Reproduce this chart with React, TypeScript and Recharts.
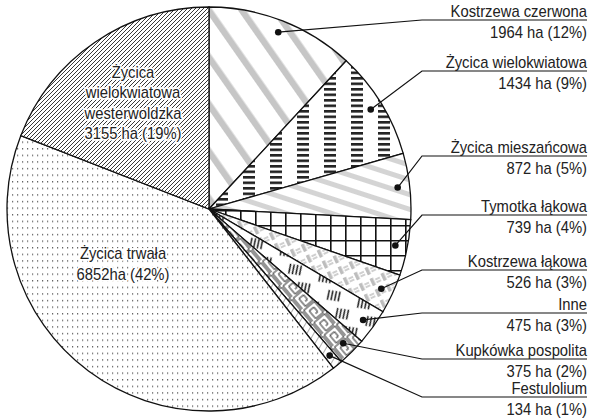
import { PieChart, Pie, Cell } from 'recharts';

// areas of grass species (ha), clockwise from 12 o'clock
const names = [
  'Kostrzewa czerwona',
  'Życica wielokwiatowa',
  'Życica mieszańcowa',
  'Tymotka łąkowa',
  'Kostrzewa łąkowa',
  'Inne',
  'Kupkówka pospolita',
  'Festulolium',
  'Życica trwała',
  'Życica wielokwiatowa westerwoldzka',
];
const areas = [1964, 1434, 872, 739, 526, 475, 375, 134, 6852, 3155];
const percents = [12, 9, 5, 4, 3, 3, 2, 1, 42, 19];
const valueLabels = [
  '1964 ha (12%)',
  '1434 ha (9%)',
  '872 ha (5%)',
  '739 ha (4%)',
  '526 ha (3%)',
  '475 ha (3%)',
  '375 ha (2%)',
  '134 ha (1%)',
  '6852ha (42%)',
  '3155 ha (19%)',
];
const patternIds = ['pCzer', 'pWielo', 'pMiesz', 'pTym', 'pKlak', 'pInne', 'pKup', 'pFest', 'pTrw', 'pWest'];

const data = names.map((name, i) => ({ name, value: areas[i], pct: percents[i], label: valueLabels[i] }));

// layout of the right-hand callouts
const calloutY = [20, 71, 156, 215, 270, 313, 359, 397];
const LEADER_X = 422;
const TEXT_RIGHT = 587;
const FONT = "'Liberation Sans', Arial, sans-serif";
const FONT_SIZE = 17;
const SQUEEZE = 0.87; // narrow face look

const RAD = Math.PI / 180;

// text squeezed horizontally around its anchor point
function Narrow({ x, y, anchor, halo, children }: any) {
  return (
    <text
      x={x}
      y={y}
      textAnchor={anchor}
      fontFamily={FONT}
      fontSize={FONT_SIZE}
      fill="#222"
      stroke={halo ? '#fff' : undefined}
      strokeWidth={halo ? 3.5 : undefined}
      paintOrder="stroke"
      transform={`translate(${x},0) scale(${SQUEEZE},1) translate(${-x},0)`}
    >
      {children}
    </text>
  );
}

const renderLabel = (props: any) => {
  const { cx, cy, midAngle, outerRadius, index } = props;
  const d = data[index];

  if (index === 9) {
    const x = cx - 76;
    const y = cy - 131;
    const lines = ['Życica', 'wielokwiatowa', 'westerwoldzka', d.label];
    return (
      <g key={`lbl-${index}`}>
        {lines.map((t, k) => (
          <Narrow key={k} x={x} y={y + k * 20.5} anchor="middle" halo>
            {t}
          </Narrow>
        ))}
      </g>
    );
  }
  if (index === 8) {
    const x = cx - 86;
    const y = cy + 50;
    const lines = ['Życica trwała', d.label];
    return (
      <g key={`lbl-${index}`}>
        {lines.map((t, k) => (
          <Narrow key={k} x={x} y={y + k * 21} anchor="middle" halo>
            {t}
          </Narrow>
        ))}
      </g>
    );
  }

  const r = outerRadius * 0.94;
  const px = cx + r * Math.cos(-midAngle * RAD);
  const py = cy + r * Math.sin(-midAngle * RAD);
  const ly = calloutY[index];

  return (
    <g key={`lbl-${index}`}>
      <polyline
        points={`${px},${py} ${LEADER_X},${ly} ${TEXT_RIGHT},${ly}`}
        fill="none"
        stroke="#111"
        strokeWidth={1.2}
      />
      <circle cx={px} cy={py} r={3.3} fill="#111" />
      <Narrow x={TEXT_RIGHT} y={ly - 3} anchor="end">
        {d.name}
      </Narrow>
      <Narrow x={TEXT_RIGHT} y={ly + 18.5} anchor="end">
        {d.label}
      </Narrow>
    </g>
  );
};

export default function App() {
  return (
    <div style={{ position: 'absolute', left: 0, top: 0, width: 589, height: 420, background: '#fff' }}>
      <PieChart width={589} height={420} margin={{ top: 0, right: 0, bottom: 0, left: 0 }}>
        <defs>
          {/* wide grey bands, descending right */}
          <pattern id="pCzer" patternUnits="userSpaceOnUse" width="27" height="27" patternTransform="rotate(-35)">
            <rect width="27" height="27" fill="#fff" />
            <rect x="0" y="0" width="6.5" height="27" fill="#c6c6c6" />
          </pattern>
          {/* columns of short dashes */}
          <pattern id="pWielo" patternUnits="userSpaceOnUse" width="27" height="5.5">
            <rect width="27" height="5.5" fill="#fff" />
            <rect x="0" y="0" width="12" height="2.6" fill="#222" />
          </pattern>
          {/* shallow light grey bands */}
          <pattern id="pMiesz" patternUnits="userSpaceOnUse" width="20" height="14" patternTransform="rotate(18)">
            <rect width="20" height="14" fill="#fff" />
            <rect x="0" y="0" width="20" height="5" fill="#d4d4d4" />
          </pattern>
          {/* square grid */}
          <pattern id="pTym" patternUnits="userSpaceOnUse" width="15" height="15">
            <rect width="15" height="15" fill="#fff" />
            <path d="M0 0.8 H15 M0.8 0 V15" stroke="#111" strokeWidth={1.6} />
          </pattern>
          {/* grey weave */}
          <pattern id="pKlak" patternUnits="userSpaceOnUse" width="12" height="12" patternTransform="rotate(-25)">
            <rect width="12" height="12" fill="#fff" />
            <rect x="1" y="1" width="3.5" height="8" fill="#bdbdbd" />
            <path d="M6 4 H11 M6 7 H11" stroke="#888" strokeWidth={0.8} />
          </pattern>
          {/* groups of short diagonal strokes */}
          <pattern id="pInne" patternUnits="userSpaceOnUse" width="24" height="20" patternTransform="rotate(-25)">
            <rect width="24" height="20" fill="#fff" />
            <path d="M2 10 L8 2 M5 12 L11 4 M8 14 L14 6 M11 16 L17 8" stroke="#111" strokeWidth={1.3} />
          </pattern>
          {/* greek key / maze */}
          <pattern id="pKup" patternUnits="userSpaceOnUse" width="16" height="16" patternTransform="rotate(-40)">
            <rect width="16" height="16" fill="#fff" />
            <path d="M1 15 V1 H15 V15 H5 V5 H11 V11 H8" fill="none" stroke="#111" strokeWidth={0.9} />
          </pattern>
          {/* sparse thin hatch */}
          <pattern id="pFest" patternUnits="userSpaceOnUse" width="6" height="6" patternTransform="rotate(30)">
            <rect width="6" height="6" fill="#fff" />
            <path d="M0 0 V6" stroke="#333" strokeWidth={0.8} />
          </pattern>
          {/* fine dots */}
          <pattern id="pTrw" patternUnits="userSpaceOnUse" width="5" height="6.6">
            <rect width="5" height="6.6" fill="#fff" />
            <rect x="2" y="3" width="1.2" height="1.2" fill="#444" />
          </pattern>
          {/* dense diagonal lines */}
          <pattern id="pWest" patternUnits="userSpaceOnUse" width="4" height="4">
            <rect width="4" height="4" fill="#fff" />
            <path d="M-1 1 L1 -1 M0 4 L4 0 M3 5 L5 3" stroke="#222" strokeWidth={0.9} />
          </pattern>
        </defs>
        <Pie
          data={data}
          dataKey="value"
          nameKey="name"
          cx={209}
          cy={209}
          outerRadius={202}
          startAngle={90}
          endAngle={-270}
          stroke="#111"
          strokeWidth={1.3}
          label={renderLabel}
          labelLine={false}
          isAnimationActive={false}
        >
          {data.map((d, i) => (
            <Cell key={d.name} fill={`url(#${patternIds[i]})`} />
          ))}
        </Pie>
      </PieChart>
    </div>
  );
}
